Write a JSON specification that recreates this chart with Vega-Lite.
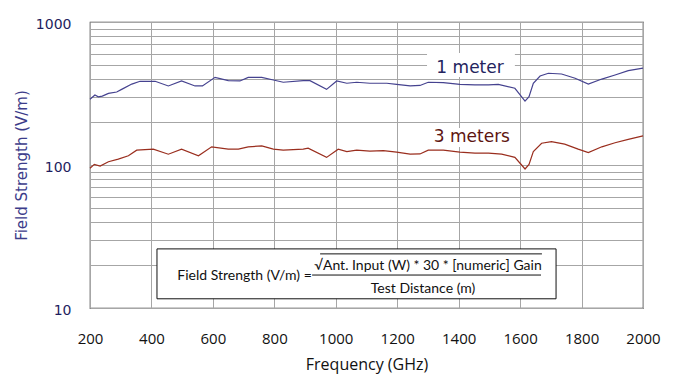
{
  "$schema": "https://vega.github.io/schema/vega-lite/v6.json",
  "width": 553,
  "height": 286,
  "autosize": "none",
  "padding": {"left": 90, "top": 22, "right": 30, "bottom": 78},
  "background": "white",
  "config": {
    "view": {"stroke": "#3a3a3a", "strokeWidth": 1.2},
    "axis": {"grid": true, "gridColor": "#a6a6a6", "gridWidth": 1, "gridOpacity": 1, "ticks": false, "domain": false}
  },
  "layer": [
    {
      "data": {"values": [
        {"f": 1297, "f2": 1583, "v": 607, "v2": 412},
        {"f": 1307, "f2": 1577, "v": 181.5, "v2": 133.7}
      ]},
      "mark": {"type": "rect", "fill": "white"},
      "encoding": {
        "x": {"field": "f", "type": "quantitative", "scale": {"domain": [200, 2000], "nice": false, "zero": false},
          "axis": {"values": [200,300,400,500,600,700,800,900,1000,1100,1200,1300,1400,1500,1600,1700,1800,1900,2000],
            "labelExpr": "datum.value % 200 == 0 ? format(datum.value, 'd') : ''",
            "title": "Frequency (GHz)", "labelFont": "Open Sans", "labelFontSize": 15, "labelColor": "#111111",
            "labelPadding": 23, "titleFont": "Open Sans", "titleFontSize": 16, "titleFontWeight": "normal",
            "titleColor": "#111111", "titlePadding": 10, "labelFlush": false}},
        "x2": {"field": "f2"},
        "y": {"field": "v", "type": "quantitative", "scale": {"type": "log", "domain": [10, 1000], "nice": false},
          "axis": {"values": [10,20,30,40,50,60,70,80,90,100,200,300,400,500,600,700,800,900,1000],
            "labelExpr": "(datum.value == 10 || datum.value == 100 || datum.value == 1000) ? format(datum.value, 'd') : ''",
            "title": "Field Strength (V/m)", "labelFont": "DejaVu Sans", "labelFontSize": 14, "labelColor": "#1e1e5e",
            "labelPadding": 19, "titleFont": "DejaVu Sans", "titleFontSize": 15, "titleFontWeight": "normal",
            "titleColor": "#3c3c8a", "titlePadding": 6, "labelBaseline": "middle", "labelOffset": 2, "labelFlush": false}},
        "y2": {"field": "v2"}
      }
    },
    {
      "data": {"values": [
        {"s": "1 meter", "f": 200, "v": 288}, {"s": "1 meter", "f": 216, "v": 309}, {"s": "1 meter", "f": 227, "v": 300},
        {"s": "1 meter", "f": 240, "v": 303}, {"s": "1 meter", "f": 260, "v": 317}, {"s": "1 meter", "f": 287, "v": 324},
        {"s": "1 meter", "f": 303, "v": 338}, {"s": "1 meter", "f": 336, "v": 368}, {"s": "1 meter", "f": 363, "v": 385},
        {"s": "1 meter", "f": 412, "v": 385}, {"s": "1 meter", "f": 455, "v": 357}, {"s": "1 meter", "f": 498, "v": 387},
        {"s": "1 meter", "f": 542, "v": 357}, {"s": "1 meter", "f": 566, "v": 357}, {"s": "1 meter", "f": 607, "v": 410},
        {"s": "1 meter", "f": 650, "v": 389}, {"s": "1 meter", "f": 688, "v": 387}, {"s": "1 meter", "f": 715, "v": 410},
        {"s": "1 meter", "f": 759, "v": 410}, {"s": "1 meter", "f": 797, "v": 393}, {"s": "1 meter", "f": 829, "v": 379},
        {"s": "1 meter", "f": 894, "v": 389}, {"s": "1 meter", "f": 916, "v": 389}, {"s": "1 meter", "f": 970, "v": 338},
        {"s": "1 meter", "f": 1003, "v": 387}, {"s": "1 meter", "f": 1036, "v": 373}, {"s": "1 meter", "f": 1068, "v": 379},
        {"s": "1 meter", "f": 1111, "v": 373}, {"s": "1 meter", "f": 1166, "v": 373}, {"s": "1 meter", "f": 1198, "v": 366},
        {"s": "1 meter", "f": 1242, "v": 357}, {"s": "1 meter", "f": 1274, "v": 360}, {"s": "1 meter", "f": 1301, "v": 379},
        {"s": "1 meter", "f": 1350, "v": 377}, {"s": "1 meter", "f": 1404, "v": 366}, {"s": "1 meter", "f": 1453, "v": 363},
        {"s": "1 meter", "f": 1497, "v": 363}, {"s": "1 meter", "f": 1529, "v": 366}, {"s": "1 meter", "f": 1583, "v": 344},
        {"s": "1 meter", "f": 1600, "v": 309}, {"s": "1 meter", "f": 1616, "v": 280}, {"s": "1 meter", "f": 1629, "v": 300},
        {"s": "1 meter", "f": 1643, "v": 373}, {"s": "1 meter", "f": 1665, "v": 419}, {"s": "1 meter", "f": 1692, "v": 438},
        {"s": "1 meter", "f": 1735, "v": 433}, {"s": "1 meter", "f": 1779, "v": 404}, {"s": "1 meter", "f": 1822, "v": 368},
        {"s": "1 meter", "f": 1866, "v": 399}, {"s": "1 meter", "f": 1909, "v": 426}, {"s": "1 meter", "f": 1952, "v": 457},
        {"s": "1 meter", "f": 2000, "v": 476},
        {"s": "3 meters", "f": 200, "v": 94.8}, {"s": "3 meters", "f": 214, "v": 101}, {"s": "3 meters", "f": 233, "v": 98.4},
        {"s": "3 meters", "f": 260, "v": 105.4}, {"s": "3 meters", "f": 292, "v": 110}, {"s": "3 meters", "f": 325, "v": 116},
        {"s": "3 meters", "f": 352, "v": 127}, {"s": "3 meters", "f": 406, "v": 129}, {"s": "3 meters", "f": 455, "v": 119},
        {"s": "3 meters", "f": 498, "v": 129}, {"s": "3 meters", "f": 553, "v": 116}, {"s": "3 meters", "f": 596, "v": 134},
        {"s": "3 meters", "f": 650, "v": 129}, {"s": "3 meters", "f": 683, "v": 129}, {"s": "3 meters", "f": 715, "v": 134},
        {"s": "3 meters", "f": 759, "v": 136}, {"s": "3 meters", "f": 797, "v": 129}, {"s": "3 meters", "f": 829, "v": 127},
        {"s": "3 meters", "f": 894, "v": 129}, {"s": "3 meters", "f": 910, "v": 131}, {"s": "3 meters", "f": 970, "v": 113},
        {"s": "3 meters", "f": 1008, "v": 129}, {"s": "3 meters", "f": 1036, "v": 124}, {"s": "3 meters", "f": 1068, "v": 127},
        {"s": "3 meters", "f": 1111, "v": 125}, {"s": "3 meters", "f": 1155, "v": 126}, {"s": "3 meters", "f": 1198, "v": 123},
        {"s": "3 meters", "f": 1242, "v": 119}, {"s": "3 meters", "f": 1274, "v": 119.5}, {"s": "3 meters", "f": 1301, "v": 127},
        {"s": "3 meters", "f": 1350, "v": 127}, {"s": "3 meters", "f": 1404, "v": 123}, {"s": "3 meters", "f": 1453, "v": 121},
        {"s": "3 meters", "f": 1497, "v": 121}, {"s": "3 meters", "f": 1540, "v": 119}, {"s": "3 meters", "f": 1583, "v": 113},
        {"s": "3 meters", "f": 1602, "v": 101.6}, {"s": "3 meters", "f": 1616, "v": 93.8}, {"s": "3 meters", "f": 1629, "v": 101},
        {"s": "3 meters", "f": 1643, "v": 124}, {"s": "3 meters", "f": 1670, "v": 142}, {"s": "3 meters", "f": 1702, "v": 145.6},
        {"s": "3 meters", "f": 1745, "v": 140}, {"s": "3 meters", "f": 1789, "v": 129}, {"s": "3 meters", "f": 1822, "v": 122},
        {"s": "3 meters", "f": 1866, "v": 134}, {"s": "3 meters", "f": 1909, "v": 143}, {"s": "3 meters", "f": 1952, "v": 151},
        {"s": "3 meters", "f": 2000, "v": 160}
      ]},
      "mark": {"type": "line", "strokeWidth": 1.2},
      "encoding": {
        "x": {"field": "f", "type": "quantitative"},
        "y": {"field": "v", "type": "quantitative"},
        "color": {"field": "s", "type": "nominal", "legend": null,
          "scale": {"domain": ["1 meter", "3 meters"], "range": ["#45428f", "#9a2e1e"]}}
      }
    },
    {
      "data": {"values": [{"f": 1437, "v": 476, "t": "1 meter"}]},
      "mark": {"type": "text", "font": "DejaVu Sans", "fontSize": 17, "color": "#24245e", "baseline": "middle", "align": "center"},
      "encoding": {
        "x": {"field": "f", "type": "quantitative"},
        "y": {"field": "v", "type": "quantitative"},
        "text": {"field": "t"}
      }
    },
    {
      "data": {"values": [{"f": 1443, "v": 157, "t": "3 meters"}]},
      "mark": {"type": "text", "font": "DejaVu Sans", "fontSize": 17, "color": "#5e1510", "baseline": "middle", "align": "center"},
      "encoding": {
        "x": {"field": "f", "type": "quantitative"},
        "y": {"field": "v", "type": "quantitative"},
        "text": {"field": "t"}
      }
    },
    {
      "data": {"values": [{"f": 418, "f2": 1717, "v": 25.9, "v2": 11.6}]},
      "mark": {"type": "rect", "fill": "white", "stroke": "#111111", "strokeWidth": 1},
      "encoding": {
        "x": {"field": "f", "type": "quantitative"},
        "x2": {"field": "f2"},
        "y": {"field": "v", "type": "quantitative"},
        "y2": {"field": "v2"}
      }
    },
    {
      "data": {"values": [
        {"f": 703, "v": 16.75, "t": "Field Strength (V/m) ="},
        {"f": 1300, "v": 19.7, "t": "√Ant. Input (W) * 30 * [numeric] Gain"},
        {"f": 1284, "v": 13.6, "t": "Test Distance (m)"}
      ]},
      "mark": {"type": "text", "font": "Lato", "fontSize": 14, "color": "#111111", "baseline": "middle", "align": "center"},
      "encoding": {
        "x": {"field": "f", "type": "quantitative"},
        "y": {"field": "v", "type": "quantitative"},
        "text": {"field": "t"}
      }
    },
    {
      "data": {"values": [
        {"f": 923, "f2": 1668, "v": 17.0},
        {"f": 949, "f2": 1671, "v": 23.9}
      ]},
      "mark": {"type": "rule", "color": "#111111", "strokeWidth": 1},
      "encoding": {
        "x": {"field": "f", "type": "quantitative"},
        "x2": {"field": "f2"},
        "y": {"field": "v", "type": "quantitative"}
      }
    }
  ]
}
